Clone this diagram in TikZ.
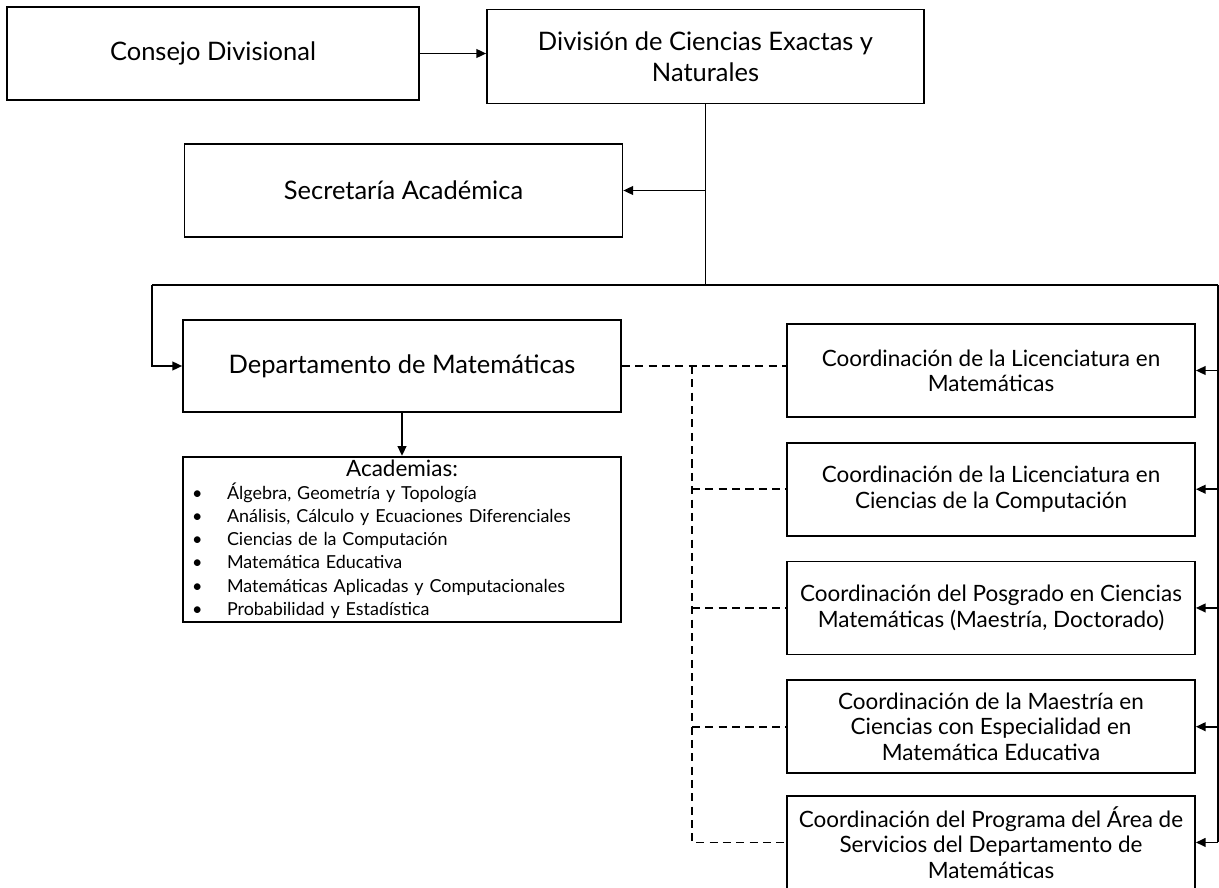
\documentclass[tikz,border=0pt]{standalone}
\usepackage{fontspec}
\setmainfont{Lato}
\usetikzlibrary{arrows.meta}
\usetikzlibrary{positioning}

% one bullet line of the Academias box
\newcommand{\acitem}[1]{\hspace*{0.18cm}\makebox[0.70cm][l]{\textbullet}#1\par}

\tikzset {
  % path styles
  link/.style = {
    draw = black,
    line width = 1pt
  },
  arr/.style = {
    link,
    -{Triangle[length=5.6pt,width=5pt]}
  },
  % dashed path, no arrow
  rel/.style = {
    link,
    dash pattern = on 4.6pt off 3pt
  }
}
\tikzset {
  unit/.style = {
    draw = black,
    line width = 1pt,
    rectangle,
    align = center,
    inner sep = 0
  },
  % large boxes on the left
  bigunit/.style = {
    unit,
    minimum width = 8.76cm,
    minimum height = 1.86cm,
    font = \fontsize{14.5}{17.6}\selectfont
  },
  % coordinations on the right
  coordunit/.style = {
    unit,
    minimum width = 8.16cm,
    minimum height = 1.86cm,
    font = \fontsize{12.8}{14.4}\selectfont
  },
  acad/.style = {
    unit,
    align = left,
    text width = 8.76cm,
    minimum height = 3.3cm
  },
  node distance = 0.48cm
}

\begin{document}
\begin{tikzpicture}[x=0.02cm,y=-0.02cm]
  \useasboundingbox (0,0) rectangle (1219,888);

  \node[bigunit, minimum width=8.24cm] (consejo) at (213,53.5) {Consejo Divisional};
  \node[bigunit, minimum width=8.74cm, minimum height=1.88cm] (division) at (705.5,56.5)
    {División de Ciencias Exactas y\\Naturales};
  \node[bigunit] (secretaria) at (403.5,190.5) {Secretaría Académica};
  \node[bigunit, minimum height=1.84cm] (depto) at (402,366) {Departamento de Matemáticas};
  \node[acad, below=0.86cm of depto] (academias) {%
    {\centering\fontsize{12.8}{14}\selectfont Academias:\par}
    \raggedright\fontsize{10.2}{13.1}\selectfont
    \acitem{Álgebra, Geometría y Topología}
    \acitem{Análisis, Cálculo y Ecuaciones Diferenciales}
    \acitem{Ciencias de la Computación}
    \acitem{Matemática Educativa}
    \acitem{Matemáticas Aplicadas y Computacionales}
    \acitem{Probabilidad y Estadística}};

  \node[coordunit] (coord1) at (991,370.5) {Coordinación de la Licenciatura en\\Matemáticas};
  \node[coordunit, below=of coord1] (coord2) {Coordinación de la Licenciatura en\\Ciencias de la Computación};
  \node[coordunit, below=of coord2] (coord3) {Coordinación del Posgrado en Ciencias\\Matemáticas (Maestría, Doctorado)};
  \node[coordunit, below=of coord3] (coord4) {Coordinación de la Maestría en\\Ciencias con Especialidad en\\Matemática Educativa};
  \node[coordunit, below=0.42cm of coord4] (coord5) {Coordinación del Programa del Área de\\Servicios del Departamento de\\Matemáticas};

  \coordinate (busL) at (152,285);
  \coordinate (busR) at (1218,285);
  \coordinate (busM) at (division.south |- busL);
  \coordinate (dtop) at (692,366);

  \draw[arr] (consejo.east) -- (consejo.east -| division.west);
  \draw[link] (division.south) -- (busM);
  \draw[arr] (division.south |- secretaria.east) -- (secretaria.east);
  \draw[link] (busL) -- (busR);
  \draw[arr] (busL) |- (depto.west);
  \draw[arr] (depto) -- (academias);
  \draw[link] (busR) -- (busR |- coord5.east);
  \foreach \i in {1,...,5}
    \draw[arr] (busR |- coord\i.east) -- (coord\i.east);

  \draw[rel] (depto.east) -- (depto.east -| coord1.west);
  \draw[rel] (dtop) |- (coord5.west);
  \foreach \i in {2,3,4}
    \draw[rel] (dtop |- coord\i.west) -- (coord\i.west);
\end{tikzpicture}
\end{document}
